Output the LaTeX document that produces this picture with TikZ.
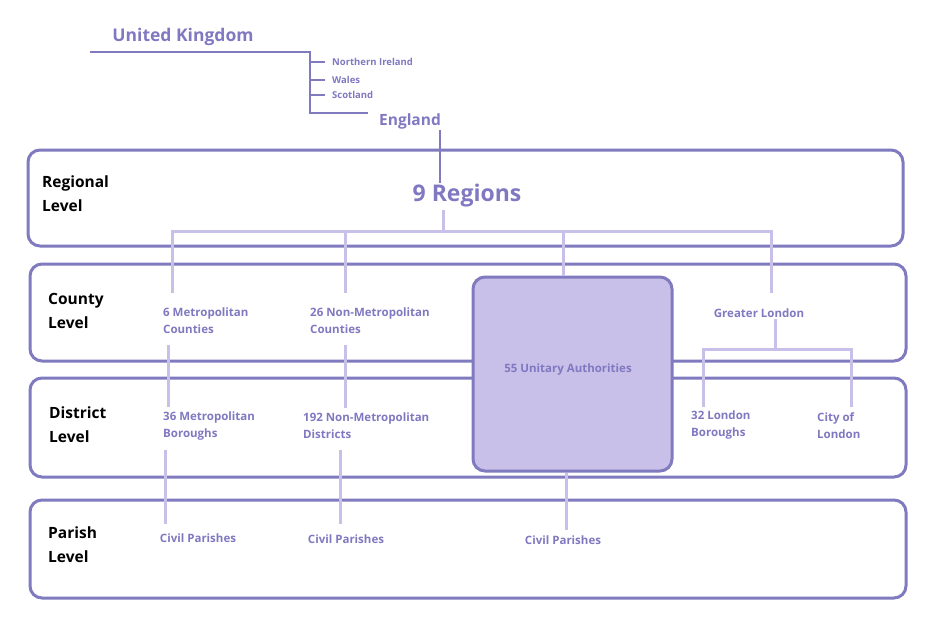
\documentclass[tikz,border=0pt]{standalone}
\usepackage{fontspec}
\setmainfont{Open Sans}
\usetikzlibrary{positioning}
\definecolor{darkline}{RGB}{128,122,190}
\definecolor{lightline}{RGB}{200,192,232}
\definecolor{txt}{RGB}{128,120,192}
\definecolor{unifill}{RGB}{200,192,232}
\tikzset{
  level/.style={draw=darkline,line width=3pt,rounded corners=12pt},
  levtxt/.style={anchor=north west,align=left,font=\fontsize{15.5}{24}\selectfont\bfseries,text=black,inner sep=0pt},
  unit/.style={align=left,font=\fontsize{11.5}{17}\selectfont\bfseries,text=txt,inner sep=1pt},
  small/.style={font=\fontsize{9.5}{10}\selectfont\bfseries,text=txt,anchor=west,inner sep=0pt},
  dark/.style={draw=darkline,line width=2.5pt},
  light/.style={draw=lightline,line width=3pt},
}
\begin{document}
\begin{tikzpicture}[x=1pt,y=-1pt]
\useasboundingbox (0,0) rectangle (941,641);

% levels
\draw[level] (28,150) rectangle (903,246);
\draw[level] (30,264) rectangle (906,361);
\draw[level] (30,378) rectangle (906,477);
\draw[level] (30,500) rectangle (906,598);
\node[levtxt] (reg) at (42,176) {Regional\\Level};
\node[levtxt] (cty) at (48,293) {County\\Level};
\node[levtxt] (dis) at (49,407) {District\\Level};
\node[levtxt] (par) at (48,527) {Parish\\Level};

% top
\node[font=\fontsize{17.5}{20}\selectfont\bfseries,text=txt] (uk) at (183,37) {United Kingdom};
\node[small] (ni) at (332,62) {Northern Ireland};
\node[small] (wa) at (332,80) {Wales};
\node[small] (sc) at (332,95) {Scotland};
\node[font=\fontsize{15.5}{18}\selectfont\bfseries,text=txt] (eng) at (410,121) {England};
\node[font=\fontsize{23}{26}\selectfont\bfseries,text=txt] (regions) at (467,196) {9 Regions};
\coordinate (ukl) at (90,52);
\coordinate (ukr) at (310,52);
\coordinate (ukb) at (310,113);
\draw[dark] (ukl) -- (ukr) -- (ukb) -- (368,113);
\draw[dark] (310,62) -- (325,62);
\draw[dark] (310,80) -- (325,80);
\draw[dark] (310,95) -- (325,95);
\draw[dark] (440,130) -- (440,183);

% unitary
\node[draw=darkline,line width=3pt,fill=unifill,rounded corners=12pt,minimum width=199,minimum height=194] (ua) at (572.5,374) {};
\node[unit] (uat) at (568,370) {55 Unitary Authorities};

% county/district/parish
\node[unit,anchor=west] (mc) at (162,321) {6 Metropolitan\\Counties};
\node[unit,anchor=west] (nmc) at (309,321) {26 Non-Metropolitan\\Counties};
\node[unit] (gl) at (759,313) {Greater London};
\node[unit,anchor=west] (mb) at (162,426) {36 Metropolitan\\Boroughs};
\node[unit,anchor=west] (nmd) at (302,426) {192 Non-Metropolitan\\Districts};
\node[unit,anchor=west] (lb) at (690,425) {32 London\\Boroughs};
\node[unit,anchor=west] (col) at (816,426) {City of\\London};
\node[unit] (cp1) at (198,538) {Civil Parishes};
\node[unit] (cp2) at (346,539) {Civil Parishes};
\node[unit] (cp3) at (563,540) {Civil Parishes};

% connectors
\coordinate (rj) at (443,231);
\draw[light] (443,210) -- (rj);
\draw[light] (172,293) |- (771,231) -- (771,293);
\draw[light] (345,231) -- (345,293);
\draw[light] (563,231) -- (ua.north -| 563,0);
\draw[light] (168,345) -- (168,407);
\draw[light] (345,345) -- (345,408);
\draw[light] (165,450) -- (165,524);
\draw[light] (340,450) -- (340,524);
\draw[light] (ua.south -| 566,0) -- (566,530);
\draw[light] (gl.south -| 775,0) -- (775,349);
\draw[light] (703,407) |- (851,349) -- (851,407);
\end{tikzpicture}
\end{document}
